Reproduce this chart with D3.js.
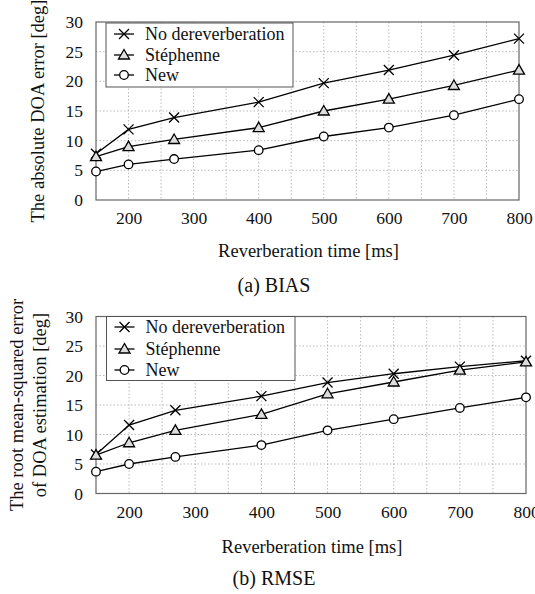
<!DOCTYPE html>
<html>
<head>
<meta charset="utf-8">
<script src="https://cdn.jsdelivr.net/npm/d3@7"></script>
<style>
  body { margin: 0; background: #fff; }
  svg { display: block; }
</style>
</head>
<body>
<svg></svg>
<script>
// Data
let times = [150, 200, 270, 400, 500, 600, 700, 800];
let seriesNames = ['No dereverberation', 'Stéphenne', 'New'];
let biasNoDerev = [7.8, 11.9, 13.9, 16.5, 19.7, 21.9, 24.4, 27.2];
let biasStephenne = [7.3, 9.0, 10.2, 12.2, 15.0, 17.0, 19.3, 21.9];
let biasNew = [4.8, 6.0, 6.9, 8.4, 10.7, 12.2, 14.3, 17.0];
let rmseNoDerev = [6.6, 11.6, 14.1, 16.5, 18.8, 20.3, 21.5, 22.5];
let rmseStephenne = [6.5, 8.6, 10.7, 13.4, 16.9, 18.9, 20.9, 22.3];
let rmseNew = [3.7, 5.0, 6.2, 8.2, 10.7, 12.6, 14.5, 16.3];
let xTicks = [200, 300, 400, 500, 600, 700, 800];
let xGrid = [200, 250, 300, 350, 400, 450, 500, 550, 600, 650, 700, 750];
let yTicks = [0, 5, 10, 15, 20, 25, 30];
let markers = ['cross', 'triangle', 'circle'];

let FONT = "'Liberation Serif', 'DejaVu Serif', 'Times New Roman', serif";
let width = 535, height = 594;
let svg = d3.select('svg').attr('width', width).attr('height', height);

// Draw one marker symbol at 0,0 inside g
function drawMarker(g, type) {
    if (type === 'cross') {
        g.append('path').attr('d', 'M-5,-5L5,5M-5,5L5,-5')
            .attr('stroke', '#000').attr('stroke-width', 1.3).attr('fill', 'none');
    } else if (type === 'triangle') {
        g.append('path').attr('d', 'M0,-5.5L5.5,4L-5.5,4Z')
            .attr('stroke', '#000').attr('stroke-width', 1.3).attr('fill', '#ddd');
    } else {
        g.append('circle').attr('r', 4.3)
            .attr('stroke', '#000').attr('stroke-width', 1.3).attr('fill', '#fff');
    }
}

function addText(g, size) {
    return g.append('text').style('font-family', FONT).style('font-size', size + 'px').attr('fill', '#111');
}

function drawPanel(p) {
    let xScale = d3.scaleLinear().domain([150, 800]).range([p.left, p.right]);
    let yScale = d3.scaleLinear().domain([0, 30]).range([p.bottom, p.top]);
    let g = svg.append('g');

    // grid
    g.append('g').selectAll('line').data(xGrid).enter().append('line')
        .attr('x1', d => xScale(d)).attr('x2', d => xScale(d))
        .attr('y1', p.top).attr('y2', p.bottom)
        .attr('stroke', '#aaa').attr('stroke-width', 0.8).attr('stroke-dasharray', '1.5,2');
    g.append('g').selectAll('line').data(yTicks.slice(1, -1)).enter().append('line')
        .attr('x1', p.left).attr('x2', p.right)
        .attr('y1', d => yScale(d)).attr('y2', d => yScale(d))
        .attr('stroke', '#aaa').attr('stroke-width', 0.8).attr('stroke-dasharray', '1.5,2');

    // frame
    g.append('rect').attr('x', p.left).attr('y', p.top)
        .attr('width', p.right - p.left).attr('height', p.bottom - p.top)
        .attr('fill', 'none').attr('stroke', '#666').attr('stroke-width', 1.2);

    // axes labels
    let xAxis = d3.axisBottom(xScale).tickValues(xTicks).tickSize(0).tickPadding(12);
    g.append('g').attr('transform', `translate(0, ${p.bottom})`).call(xAxis)
        .attr('font-family', FONT).attr('font-size', 17.5)
        .call(a => a.select('.domain').remove())
        .selectAll('text').attr('fill', '#111');
    let yAxis = d3.axisLeft(yScale).tickValues(yTicks).tickSize(0).tickPadding(13);
    g.append('g').attr('transform', `translate(${p.left}, 0)`).call(yAxis)
        .attr('font-family', FONT).attr('font-size', 17.5)
        .call(a => a.select('.domain').remove())
        .selectAll('text').attr('fill', '#111');

    // lines and markers
    let line = d3.line().x((d, i) => xScale(times[i])).y(d => yScale(d));
    p.series.forEach((vals) => {
        g.append('path').datum(vals).attr('d', line)
            .attr('fill', 'none').attr('stroke', '#000').attr('stroke-width', 1.3);
    });
    p.series.forEach((vals, s) => {
        vals.forEach((v, i) => {
            let m = g.append('g').attr('transform', `translate(${xScale(times[i])}, ${yScale(v)})`);
            drawMarker(m, markers[s]);
        });
    });

    // legend
    let lg = g.append('g');
    lg.append('rect').attr('x', p.legend.x).attr('y', p.legend.y)
        .attr('width', p.legend.w).attr('height', p.legend.h)
        .attr('fill', '#fff').attr('stroke', '#555').attr('stroke-width', 1);
    seriesNames.forEach((name, s) => {
        let ry = p.legend.rows[s];
        lg.append('line').attr('x1', p.legend.x + 8).attr('x2', p.legend.x + 28)
            .attr('y1', ry).attr('y2', ry).attr('stroke', '#000').attr('stroke-width', 1.3);
        let m = lg.append('g').attr('transform', `translate(${p.legend.x + 18}, ${ry})`);
        drawMarker(m, markers[s]);
        addText(lg, 18).attr('x', p.legend.x + 39).attr('y', ry).attr('dy', '0.35em').text(name);
    });

    // titles
    addText(g, 18.5).attr('x', (p.left + p.right) / 2 + 1).attr('y', p.xTitleY)
        .attr('text-anchor', 'middle').text('Reverberation time [ms]');
    addText(g, 20).attr('x', 274).attr('y', p.captionY)
        .attr('text-anchor', 'middle').text(p.caption);
    p.yTitle.forEach((t, k) => {
        addText(g, 18.5)
            .attr('transform', `translate(${p.yTitleX[k]}, ${(p.top + p.bottom) / 2}) rotate(-90)`)
            .attr('text-anchor', 'middle').attr('dy', '0.35em').text(t);
    });
}

drawPanel({
    left: 96, right: 519, top: 22, bottom: 200,
    series: [biasNoDerev, biasStephenne, biasNew],
    legend: { x: 106, y: 23, w: 187, h: 64, rows: [34, 55, 75] },
    xTitleY: 257, caption: '(a) BIAS', captionY: 292,
    yTitle: ['The absolute DOA error [deg]'], yTitleX: [38]
});

drawPanel({
    left: 96, right: 526, top: 316.5, bottom: 493.5,
    series: [rmseNoDerev, rmseStephenne, rmseNew],
    legend: { x: 106.5, y: 316.5, w: 188.5, h: 64, rows: [327, 349, 370] },
    xTitleY: 553, caption: '(b) RMSE', captionY: 585,
    yTitle: ['The root mean-squared error', 'of DOA estimation [deg]'], yTitleX: [17, 40]
});
</script>
</body>
</html>
